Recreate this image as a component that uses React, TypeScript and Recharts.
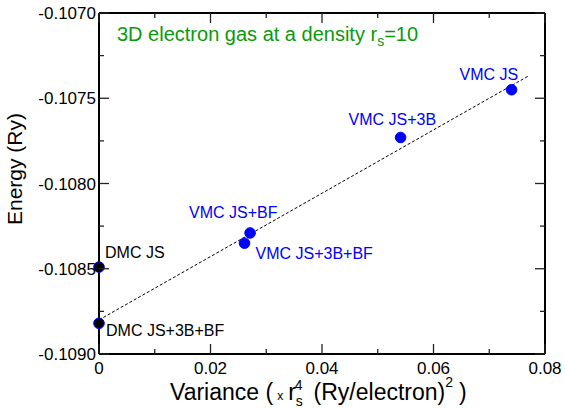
import { ScatterChart, Scatter, XAxis, YAxis, ReferenceLine } from "recharts";

const VMC_NAMES = ["VMC JS", "VMC JS+3B", "VMC JS+BF", "VMC JS+3B+BF"];
const VMC_VARIANCE = [0.074, 0.0541, 0.0271, 0.0261];
const VMC_ENERGY = [-0.10745, -0.10773, -0.10829, -0.10835];

const DMC_NAMES = ["DMC JS", "DMC JS+3B+BF"];
const DMC_VARIANCE = [0, 0];
const DMC_ENERGY = [-0.10849, -0.10882];

// dashed linear fit through the points
const FIT_VARIANCE = [0, 0.077];
const FIT_ENERGY = [-0.1088, -0.10737];

const X_MAJOR = [0, 0.02, 0.04, 0.06, 0.08];
const X_MINOR = [0.01, 0.03, 0.05, 0.07];
const Y_MAJOR = [-0.109, -0.1085, -0.108, -0.1075, -0.107];
const Y_MINOR = [-0.10875, -0.10825, -0.10775, -0.10725];

const X_TICKS = [...X_MAJOR, ...X_MINOR].sort((a, b) => a - b);
const Y_TICKS = [...Y_MAJOR, ...Y_MINOR].sort((a, b) => a - b);

const W = 565;
const H = 409;
const PLOT_TOP = 13;
const PLOT_RIGHT = 545;

const FONT = "'Liberation Sans', Arial, Helvetica, sans-serif";
const BLUE = "#0000ff";
const GREEN = "#0a9a0a";

// label offset from the marker centre (text anchored at start)
const LABEL_POS: Record<string, [number, number]> = {
  "VMC JS": [-52, -10],
  "VMC JS+3B": [-52, -12],
  "VMC JS+BF": [-61, -15],
  "VMC JS+3B+BF": [11, 16],
  "DMC JS": [6, -9],
  "DMC JS+3B+BF": [7, 13],
};

const vmcData = VMC_NAMES.map((name, i) => ({ name, x: VMC_VARIANCE[i], y: VMC_ENERGY[i] }));
const dmcData = DMC_NAMES.map((name, i) => ({ name, x: DMC_VARIANCE[i], y: DMC_ENERGY[i] }));

const makeShape = (fill: string, textColor: string) => (props: any) => {
  const { cx, cy, payload } = props;
  const [dx, dy] = LABEL_POS[payload.name] ?? [0, 0];
  return (
    <g>
      <circle cx={cx} cy={cy} r={5.3} fill={fill} stroke={BLUE} strokeWidth={1} />
      <text x={cx + dx} y={cy + dy} fill={textColor} fontSize={16} fontFamily={FONT}>
        {payload.name}
      </text>
    </g>
  );
};

const tickLen = (major: boolean) => (major ? 10 : 5);

// bottom ticks also draw the matching inward tick on the top frame
const BottomTick = (p: any) => {
  const x = Number(p.x);
  const y = Number(p.y);
  const v = p.payload.value;
  const major = X_MAJOR.includes(v);
  return (
    <g>
      <line x1={x} x2={x} y1={y} y2={y - tickLen(major)} stroke="#222" strokeWidth={1.3} />
      <line x1={x} x2={x} y1={PLOT_TOP} y2={PLOT_TOP + tickLen(major)} stroke="#222" strokeWidth={1.3} />
      {major && (
        <text x={x} y={y + 20} textAnchor="middle" fontSize={17} fontFamily={FONT} fill="#000">
          {v === 0 ? "0" : v.toFixed(2)}
        </text>
      )}
    </g>
  );
};

// left ticks also draw the matching inward tick on the right frame
const LeftTick = (p: any) => {
  const x = Number(p.x);
  const y = Number(p.y);
  const v = p.payload.value;
  const major = Y_MAJOR.includes(v);
  return (
    <g>
      <line x1={x} x2={x + tickLen(major)} y1={y} y2={y} stroke="#222" strokeWidth={1.3} />
      <line x1={PLOT_RIGHT} x2={PLOT_RIGHT - tickLen(major)} y1={y} y2={y} stroke="#222" strokeWidth={1.3} />
      {major && (
        <text x={x - 3} y={y + 6} textAnchor="end" fontSize={17} fontFamily={FONT} fill="#000">
          {v.toFixed(4)}
        </text>
      )}
    </g>
  );
};

export default function App() {
  return (
    <div style={{ position: "absolute", left: 0, top: 0, width: W, height: H, background: "#fff" }}>
      <ScatterChart width={W} height={H} margin={{ top: 0, right: 0, bottom: 0, left: 0 }}>
        <XAxis
          xAxisId="b"
          dataKey="x"
          type="number"
          domain={[0, 0.08]}
          ticks={X_TICKS}
          interval={0}
          tickSize={0}
          tickMargin={0}
          tickLine={false}
          tick={BottomTick}
          axisLine={{ stroke: "#000", strokeWidth: 2 }}
          height={55}
        />
        <XAxis
          xAxisId="t"
          orientation="top"
          dataKey="x"
          type="number"
          domain={[0, 0.08]}
          tick={false}
          tickLine={false}
          axisLine={{ stroke: "#000", strokeWidth: 2 }}
          height={PLOT_TOP}
        />
        <YAxis
          yAxisId="l"
          dataKey="y"
          type="number"
          domain={[-0.109, -0.107]}
          ticks={Y_TICKS}
          interval={0}
          tickSize={0}
          tickMargin={0}
          tickLine={false}
          tick={LeftTick}
          axisLine={{ stroke: "#000", strokeWidth: 2 }}
          width={99}
        />
        <YAxis
          yAxisId="r"
          orientation="right"
          dataKey="y"
          type="number"
          domain={[-0.109, -0.107]}
          tick={false}
          tickLine={false}
          axisLine={{ stroke: "#000", strokeWidth: 2 }}
          width={W - PLOT_RIGHT}
        />
        <ReferenceLine
          xAxisId="b"
          yAxisId="l"
          segment={[
            { x: FIT_VARIANCE[0], y: FIT_ENERGY[0] },
            { x: FIT_VARIANCE[1], y: FIT_ENERGY[1] },
          ]}
          stroke="#000"
          strokeWidth={1}
          strokeDasharray="3 2"
        />
        <Scatter
          xAxisId="b"
          yAxisId="l"
          data={vmcData}
          shape={makeShape(BLUE, BLUE)}
          isAnimationActive={false}
        />
        <Scatter
          xAxisId="b"
          yAxisId="l"
          data={dmcData}
          shape={makeShape("#000", "#000")}
          isAnimationActive={false}
        />
      </ScatterChart>
      <svg
        width={W}
        height={H}
        style={{ position: "absolute", left: 0, top: 0, pointerEvents: "none" }}
        fontFamily={FONT}
      >
        <text x={117} y={41} fill={GREEN} fontSize={20}>
          3D electron gas at a density r
          <tspan fontSize={14} dy={5}>s</tspan>
          <tspan dy={-5}>=10</tspan>
        </text>
        <text x={22} y={169} fill="#000" fontSize={21} textAnchor="middle" transform="rotate(-90 22 169)">
          Energy (Ry)
        </text>
        <text x={170} y={400} fill="#000" fontSize={23}>
          Variance (
          <tspan fontSize={12} dx={4}>x</tspan>
          <tspan dx={5}>r</tspan>
          <tspan fontSize={14} dy={6}>s</tspan>
          <tspan fontSize={14} dx={-8} dy={-16}>4</tspan>
          <tspan dx={11} dy={10}>(Ry/electron)</tspan>
          <tspan fontSize={14} dy={-13}>2</tspan>
          <tspan dx={6} dy={13}>)</tspan>
        </text>
      </svg>
    </div>
  );
}
